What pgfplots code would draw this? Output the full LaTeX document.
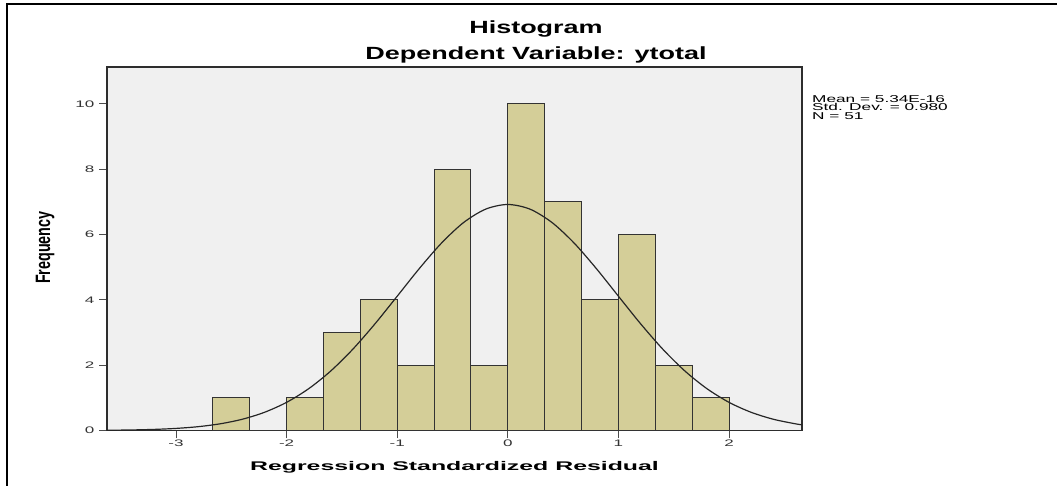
\documentclass[border=0pt]{standalone}
\usepackage{fontspec}
\setmainfont{Liberation Sans}
\usepackage{graphicx}
\usepackage{pgfplots}
\pgfplotsset{compat=1.18}
\definecolor{barfill}{RGB}{212,206,152}
\definecolor{plotbg}{RGB}{240,240,240}
\definecolor{frame}{RGB}{45,45,45}
\newcommand{\sx}[2]{\scalebox{#1}[1]{#2}}
\begin{document}
\begin{tikzpicture}[x=1bp,y=1bp]
\useasboundingbox (0,0) rectangle (1057,486);
\fill[white] (0,0) rectangle (1057,486);
\draw[line width=2bp,black] (7,0) -- (7,482) -- (1057,482);
\begin{axis}[
  at={(107bp,55.5bp)}, anchor=south west,
  scale only axis, width=695bp, height=363.5bp,
  xmin=-3.624, xmax=2.66, ymin=0, ymax=11.13,
  axis background/.style={fill=plotbg},
  axis line style={frame, line width=1.3bp},
  tick align=outside, tick pos=left,
  major tick length=8bp,
  tick style={black!70, line width=1bp},
  xtick={-3,-2,-1,0,1,2},
  xticklabels={\sx{1.8}{-3},\sx{1.8}{-2},\sx{1.8}{-1},\sx{1.8}{0},\sx{1.8}{1},\sx{1.8}{2}},
  ytick={0,2,4,6,8,10},
  yticklabels={\sx{1.8}{0},\sx{1.8}{2},\sx{1.8}{4},\sx{1.8}{6},\sx{1.8}{8},\sx{1.8}{10}},
  ticklabel style={font=\fontsize{9.5}{10}\selectfont, text=black!80, inner sep=1.5bp},
  yticklabel style={xshift=-3bp},
  xlabel={\sx{1.98}{\bfseries\fontsize{12.6}{14}\selectfont Regression Standardized Residual}},
  xlabel style={at={(axis description cs:0.5,-0.1)}, anchor=center},
  ylabel={\scalebox{1}[1.45]{\bfseries\fontsize{14.4}{16}\selectfont Frequency}},
  ylabel style={at={(axis description cs:-0.089,0.503)}, anchor=center},
  clip=true,
]
\addplot[ybar interval, fill=barfill, draw=black!80, line width=1bp] coordinates {
(-2.6667,1) (-2.3333,0) (-2,1) (-1.6667,3) (-1.3333,4) (-1,2) (-0.6667,8)
(-0.3333,2) (0,10) (0.3333,7) (0.6667,4) (1,6) (1.3333,2) (1.6667,1) (2,0)
};
\addplot[smooth, black!85, line width=1.2bp] coordinates {
(-3.7,0.0056) (-3.6,0.0081) (-3.4,0.0168) (-3.2,0.0335) (-3.0,0.0639)
(-2.8,0.117) (-2.6,0.205) (-2.4,0.345) (-2.2,0.557) (-2.0,0.862)
(-1.8,1.281) (-1.6,1.825) (-1.4,2.494) (-1.2,3.270) (-1.0,4.112)
(-0.8,4.959) (-0.6,5.737) (-0.4,6.367) (-0.2,6.778) (0,6.920)
(0.2,6.778) (0.4,6.367) (0.6,5.737) (0.8,4.959) (1.0,4.112)
(1.2,3.270) (1.4,2.494) (1.6,1.825) (1.8,1.281) (2.0,0.862)
(2.2,0.557) (2.4,0.345) (2.6,0.205) (2.7,0.1555)
};
\end{axis}
\node[anchor=base] at (536,452) {\sx{1.53}{\bfseries\fontsize{17.7}{20}\selectfont Histogram}};
\node[anchor=base] at (536,426) {\sx{1.53}{\bfseries\fontsize{17.7}{20}\selectfont Dependent Variable: ytotal}};
\node[anchor=base west, inner sep=0pt] at (812,383.7) {\sx{1.73}{\fontsize{10}{10}\selectfont Mean = 5.34E-16}};
\node[anchor=base west, inner sep=0pt] at (812,375.2) {\sx{1.73}{\fontsize{10}{10}\selectfont Std. Dev. = 0.980}};
\node[anchor=base west, inner sep=0pt] at (812,366.7) {\sx{1.73}{\fontsize{10}{10}\selectfont N = 51}};
\end{tikzpicture}
\end{document}
